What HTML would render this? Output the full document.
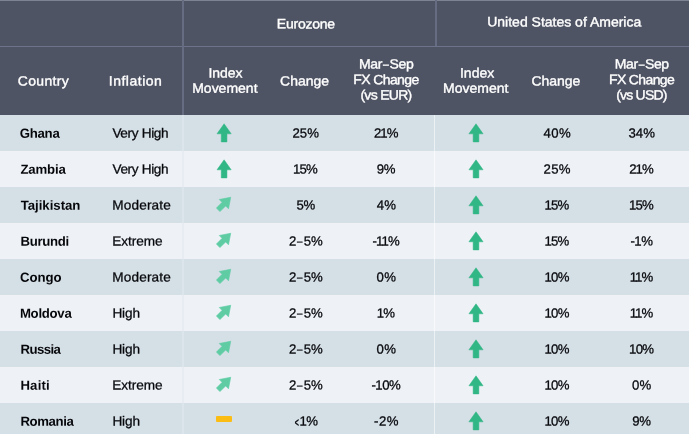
<!DOCTYPE html>
<html lang="en">
<head>
<meta charset="utf-8">
<title>Index Movement by Country</title>
<style>
html,body{margin:0;padding:0;}
body{width:689px;height:434px;overflow:hidden;position:relative;background:#d4dfe6;font-family:"Liberation Sans",Arial,sans-serif;}
.hd{position:absolute;left:0;top:0;width:689px;height:115px;background:#4f5464;}
.topline{position:absolute;left:0;top:0;width:689px;height:1px;background:#7d8391;}
.hline{position:absolute;left:0;top:46px;width:689px;height:1px;background:#6d748a;}
.v1{position:absolute;left:182px;top:0;width:2px;height:115px;background:#666d83;}
.v2{position:absolute;left:435px;top:0;width:2px;height:46px;background:#666d83;}
.bv1{position:absolute;left:182px;top:115px;width:2px;height:319px;background:rgba(226,232,240,.55);}
.bv2{position:absolute;left:434px;top:115px;width:1.3px;height:319px;background:rgba(255,255,255,.55);}
.row{position:absolute;left:0;width:689px;height:36px;}
.row.a{background:#d4dfe6;}
.row.b{background:#eef2f7;}
.t{position:absolute;white-space:nowrap;margin:0;padding:0;}
.h{color:#fff;font-size:13.4px;line-height:16px;-webkit-text-stroke:0.36px #fff;transform:scaleX(1.045);transform-origin:0 0;}
.b{color:#07080c;font-size:13.2px;line-height:16px;-webkit-text-stroke:0.28px #07080c;transform:scaleX(1.03);transform-origin:0 0;}
.bold{font-weight:bold;color:#050609;-webkit-text-stroke:0;transform:scaleX(1);}
.txt{position:absolute;left:0;top:0;width:689px;height:434px;will-change:transform;text-rendering:geometricPrecision;}
.lt{display:inline-block;position:relative;top:.5px;left:.6px;margin-right:.8px;font-size:11.5px;-webkit-text-stroke:.5px #07080c;transform:scale(.6,1.05);transform-origin:50% 60%;}
.nd{display:inline-block;transform:scaleX(.74);}
.ic{position:absolute;display:block;overflow:visible;}
.flat{position:absolute;width:16px;height:6px;border-radius:1px;background:#fbbc14;}
</style>
</head>
<body>
<div class="hd"></div>
<div class="row a" style="top:115px"></div>
<div class="row b" style="top:151px"></div>
<div class="row a" style="top:187px"></div>
<div class="row b" style="top:223px"></div>
<div class="row a" style="top:259px"></div>
<div class="row b" style="top:295px"></div>
<div class="row a" style="top:331px"></div>
<div class="row b" style="top:367px"></div>
<div class="row a" style="top:403px"></div>
<div class="topline"></div>
<div class="hline"></div>
<div class="v1"></div>
<div class="v2"></div>
<div class="bv1"></div>
<div class="bv2"></div>
<div class="txt">
<div class="t h" style="left:276px;top:16px;transform:translate(0.87px,0.36px) rotate(.05deg) scaleX(1.045);letter-spacing:-0.22px">Eurozone</div>
<div class="t h" style="left:487px;top:14px;transform:translate(0.24px,0.36px) rotate(.05deg) scaleX(1.045)">United States of America</div>
<div class="t h" style="left:17px;top:73px;transform:translate(0.77px,0.41px) rotate(.05deg) scaleX(1.045);letter-spacing:0.31px">Country</div>
<div class="t h" style="left:108px;top:73px;transform:translate(0.79px,0.41px) rotate(.05deg) scaleX(1.045);letter-spacing:0.48px">Inflation</div>
<div class="t h" style="left:208px;top:65px;transform:translate(0.41px,0.46px) rotate(.05deg) scaleX(1.045);letter-spacing:-0.04px">Index</div>
<div class="t h" style="left:192px;top:80px;transform:translate(0.20px,0.76px) rotate(.05deg) scaleX(1.045)">Movement</div>
<div class="t h" style="left:280px;top:73px;transform:translate(0.02px,0.41px) rotate(.05deg) scaleX(1.045);letter-spacing:0.01px">Change</div>
<div class="t h" style="left:358px;top:56px;transform:translate(0.99px,0.56px) rotate(.05deg) scaleX(1.045);letter-spacing:-0.33px">Mar<span class="nd">–</span>Sep</div>
<div class="t h" style="left:353px;top:72px;transform:translate(0.26px,0.11px) rotate(.05deg) scaleX(1.045);letter-spacing:-0.58px">FX Change</div>
<div class="t h" style="left:360px;top:87px;transform:translate(0.42px,0.56px) rotate(.05deg) scaleX(1.045);letter-spacing:-0.67px">(vs EUR)</div>
<div class="t h" style="left:459px;top:65px;transform:translate(0.94px,0.46px) rotate(.05deg) scaleX(1.045);letter-spacing:0.03px">Index</div>
<div class="t h" style="left:443px;top:80px;transform:translate(0.06px,0.76px) rotate(.05deg) scaleX(1.045)">Movement</div>
<div class="t h" style="left:531px;top:73px;transform:translate(0.60px,0.41px) rotate(.05deg) scaleX(1.045);letter-spacing:-0.08px">Change</div>
<div class="t h" style="left:614px;top:56px;transform:translate(0.86px,0.56px) rotate(.05deg) scaleX(1.045);letter-spacing:-0.40px">Mar<span class="nd">–</span>Sep</div>
<div class="t h" style="left:608px;top:72px;transform:translate(0.98px,0.11px) rotate(.05deg) scaleX(1.045);letter-spacing:-0.60px">FX Change</div>
<div class="t h" style="left:616px;top:87px;transform:translate(0.27px,0.56px) rotate(.05deg) scaleX(1.045);letter-spacing:-0.77px">(vs USD)</div>
<div class="t b bold" style="left:19px;top:125px;transform:translate(0.76px,0.73px) rotate(.05deg) scaleX(1);letter-spacing:-0.26px">Ghana</div>
<div class="t b" style="left:112px;top:125px;transform:translate(0.40px,0.48px) rotate(.05deg) scaleX(1.03);letter-spacing:-0.32px">Very High</div>
<div class="t b" style="left:292px;top:125px;transform:translate(0.45px,0.48px) rotate(.05deg) scaleX(1);letter-spacing:0.10px">25%</div>
<div class="t b" style="left:373px;top:125px;transform:translate(0.92px,0.48px) rotate(.05deg) scaleX(1);letter-spacing:-0.90px">21%</div>
<div class="t b" style="left:543px;top:125px;transform:translate(0.56px,0.48px) rotate(.05deg) scaleX(1);letter-spacing:0.39px">40%</div>
<div class="t b" style="left:628px;top:125px;transform:translate(0.44px,0.48px) rotate(.05deg) scaleX(1);letter-spacing:0.05px">34%</div>
<div class="t b bold" style="left:20px;top:161px;transform:translate(0.40px,0.73px) rotate(.05deg) scaleX(1);letter-spacing:-0.13px">Zambia</div>
<div class="t b" style="left:112px;top:161px;transform:translate(0.41px,0.48px) rotate(.05deg) scaleX(1.03);letter-spacing:-0.32px">Very High</div>
<div class="t b" style="left:293px;top:161px;transform:translate(0.04px,0.48px) rotate(.05deg) scaleX(1);letter-spacing:-0.81px">15%</div>
<div class="t b" style="left:376px;top:161px;transform:translate(0.78px,0.48px) rotate(.05deg) scaleX(1);letter-spacing:-0.27px">9%</div>
<div class="t b" style="left:543px;top:161px;transform:translate(0.62px,0.48px) rotate(.05deg) scaleX(1);letter-spacing:0.26px">25%</div>
<div class="t b" style="left:629px;top:161px;transform:translate(0.20px,0.48px) rotate(.05deg) scaleX(1);letter-spacing:-0.90px">21%</div>
<div class="t b bold" style="left:20px;top:197px;transform:translate(0.64px,0.73px) rotate(.05deg) scaleX(1);letter-spacing:-0.01px">Tajikistan</div>
<div class="t b" style="left:112px;top:197px;transform:translate(0.31px,0.48px) rotate(.05deg) scaleX(1.03);letter-spacing:0.15px">Moderate</div>
<div class="t b" style="left:296px;top:197px;transform:translate(0.54px,0.48px) rotate(.05deg) scaleX(1);letter-spacing:-0.34px">5%</div>
<div class="t b" style="left:376px;top:197px;transform:translate(0.87px,0.48px) rotate(.05deg) scaleX(1);letter-spacing:-0.05px">4%</div>
<div class="t b" style="left:544px;top:197px;transform:translate(0.62px,0.48px) rotate(.05deg) scaleX(1);letter-spacing:-0.90px">15%</div>
<div class="t b" style="left:629px;top:197px;transform:translate(0.03px,0.48px) rotate(.05deg) scaleX(1);letter-spacing:-0.90px">15%</div>
<div class="t b bold" style="left:20px;top:233px;transform:translate(0.44px,0.73px) rotate(.05deg) scaleX(1);letter-spacing:-0.31px">Burundi</div>
<div class="t b" style="left:112px;top:233px;transform:translate(0.21px,0.48px) rotate(.05deg) scaleX(1.03);letter-spacing:-0.04px">Extreme</div>
<div class="t b" style="left:289px;top:233px;transform:translate(0.04px,0.48px) rotate(.05deg) scaleX(1)">2<span class="nd">–</span>5%</div>
<div class="t b" style="left:372px;top:233px;transform:translate(0.58px,0.48px) rotate(.05deg) scaleX(1);letter-spacing:-0.90px">-11%</div>
<div class="t b" style="left:544px;top:233px;transform:translate(0.62px,0.48px) rotate(.05deg) scaleX(1);letter-spacing:-0.90px">15%</div>
<div class="t b" style="left:630px;top:233px;transform:translate(0.46px,0.48px) rotate(.05deg) scaleX(1);letter-spacing:-0.49px">-1%</div>
<div class="t b bold" style="left:20px;top:269px;transform:translate(0.06px,0.73px) rotate(.05deg) scaleX(1);letter-spacing:-0.05px">Congo</div>
<div class="t b" style="left:112px;top:269px;transform:translate(0.31px,0.48px) rotate(.05deg) scaleX(1.03);letter-spacing:0.15px">Moderate</div>
<div class="t b" style="left:289px;top:269px;transform:translate(0.04px,0.48px) rotate(.05deg) scaleX(1);letter-spacing:0.01px">2<span class="nd">–</span>5%</div>
<div class="t b" style="left:376px;top:269px;transform:translate(0.57px,0.48px) rotate(.05deg) scaleX(1);letter-spacing:0.29px">0%</div>
<div class="t b" style="left:544px;top:269px;transform:translate(0.42px,0.48px) rotate(.05deg) scaleX(1);letter-spacing:-0.62px">10%</div>
<div class="t b" style="left:629px;top:269px;transform:translate(0.67px,0.48px) rotate(.05deg) scaleX(1);letter-spacing:-0.90px">11%</div>
<div class="t b bold" style="left:19px;top:305px;transform:translate(0.93px,0.73px) rotate(.05deg) scaleX(1);letter-spacing:-0.28px">Moldova</div>
<div class="t b" style="left:112px;top:305px;transform:translate(0.40px,0.48px) rotate(.05deg) scaleX(1.03);letter-spacing:-0.12px">High</div>
<div class="t b" style="left:289px;top:305px;transform:translate(0.04px,0.48px) rotate(.05deg) scaleX(1)">2<span class="nd">–</span>5%</div>
<div class="t b" style="left:376px;top:305px;transform:translate(0.75px,0.48px) rotate(.05deg) scaleX(1);letter-spacing:-0.90px">1%</div>
<div class="t b" style="left:544px;top:305px;transform:translate(0.42px,0.48px) rotate(.05deg) scaleX(1);letter-spacing:-0.62px">10%</div>
<div class="t b" style="left:629px;top:305px;transform:translate(0.67px,0.48px) rotate(.05deg) scaleX(1);letter-spacing:-0.90px">11%</div>
<div class="t b bold" style="left:20px;top:341px;transform:translate(0.45px,0.73px) rotate(.05deg) scaleX(1);letter-spacing:-0.57px">Russia</div>
<div class="t b" style="left:112px;top:341px;transform:translate(0.40px,0.48px) rotate(.05deg) scaleX(1.03);letter-spacing:-0.12px">High</div>
<div class="t b" style="left:289px;top:341px;transform:translate(0.04px,0.48px) rotate(.05deg) scaleX(1);letter-spacing:0.01px">2<span class="nd">–</span>5%</div>
<div class="t b" style="left:376px;top:341px;transform:translate(0.57px,0.48px) rotate(.05deg) scaleX(1);letter-spacing:0.29px">0%</div>
<div class="t b" style="left:544px;top:341px;transform:translate(0.42px,0.48px) rotate(.05deg) scaleX(1);letter-spacing:-0.62px">10%</div>
<div class="t b" style="left:629px;top:341px;transform:translate(0.04px,0.48px) rotate(.05deg) scaleX(1);letter-spacing:-0.73px">10%</div>
<div class="t b bold" style="left:20px;top:377px;transform:translate(0.39px,0.73px) rotate(.05deg) scaleX(1);letter-spacing:0.20px">Haiti</div>
<div class="t b" style="left:112px;top:377px;transform:translate(0.21px,0.48px) rotate(.05deg) scaleX(1.03);letter-spacing:-0.04px">Extreme</div>
<div class="t b" style="left:289px;top:377px;transform:translate(0.04px,0.48px) rotate(.05deg) scaleX(1)">2<span class="nd">–</span>5%</div>
<div class="t b" style="left:371px;top:377px;transform:translate(0.41px,0.48px) rotate(.05deg) scaleX(1);letter-spacing:-0.48px">-10%</div>
<div class="t b" style="left:544px;top:377px;transform:translate(0.42px,0.48px) rotate(.05deg) scaleX(1);letter-spacing:-0.62px">10%</div>
<div class="t b" style="left:632px;top:377px;transform:translate(0.09px,0.48px) rotate(.05deg) scaleX(1);letter-spacing:0.14px">0%</div>
<div class="t b bold" style="left:20px;top:413px;transform:translate(0.45px,0.73px) rotate(.05deg) scaleX(1);letter-spacing:-0.38px">Romania</div>
<div class="t b" style="left:112px;top:413px;transform:translate(0.40px,0.48px) rotate(.05deg) scaleX(1.03);letter-spacing:-0.12px">High</div>
<div class="t b" style="left:292px;top:413px;transform:translate(0.51px,0.48px) rotate(.05deg) scaleX(1);letter-spacing:-0.55px"><span class="lt">&lt;</span>1%</div>
<div class="t b" style="left:374px;top:413px;transform:translate(0.00px,0.48px) rotate(.05deg) scaleX(1);letter-spacing:0.57px">-2%</div>
<div class="t b" style="left:544px;top:413px;transform:translate(0.42px,0.48px) rotate(.05deg) scaleX(1);letter-spacing:-0.62px">10%</div>
<div class="t b" style="left:632px;top:413px;transform:translate(0.30px,0.48px) rotate(.05deg) scaleX(1);letter-spacing:-0.25px">9%</div>
</div>
<svg class="ic" style="left:214px;top:121px" width="20" height="24" viewBox="0 0 20 24"><path transform="translate(2.10 2.80)" d="M8 0 L15.1 10 L10.85 10 L10.85 18.1 L5.15 18.1 L5.15 10 L0.9 10 Z" fill="#31b685" stroke="#31b685" stroke-width="0.5" stroke-linejoin="round"/></svg>
<svg class="ic" style="left:466px;top:121px" width="20" height="24" viewBox="0 0 20 24"><path transform="translate(2.00 2.80)" d="M8 0 L15.1 10 L10.85 10 L10.85 18.1 L5.15 18.1 L5.15 10 L0.9 10 Z" fill="#31b685" stroke="#31b685" stroke-width="0.5" stroke-linejoin="round"/></svg>
<svg class="ic" style="left:214px;top:157px" width="20" height="24" viewBox="0 0 20 24"><path transform="translate(2.10 2.80)" d="M8 0 L15.1 10 L10.85 10 L10.85 18.1 L5.15 18.1 L5.15 10 L0.9 10 Z" fill="#31b685" stroke="#31b685" stroke-width="0.5" stroke-linejoin="round"/></svg>
<svg class="ic" style="left:466px;top:157px" width="20" height="24" viewBox="0 0 20 24"><path transform="translate(2.00 2.80)" d="M8 0 L15.1 10 L10.85 10 L10.85 18.1 L5.15 18.1 L5.15 10 L0.9 10 Z" fill="#31b685" stroke="#31b685" stroke-width="0.5" stroke-linejoin="round"/></svg>
<svg class="ic" style="left:214px;top:192px" width="20" height="24" viewBox="0 0 20 24"><path transform="translate(2.45 2.40) rotate(45 8 9.15) translate(8 9.15) scale(.97) translate(-8 -9.15)" d="M8 0 L14.75 10 L10.6 10 L10.6 18.3 L5.4 18.3 L5.4 10 L1.25 10 Z" fill="#5fcca4" stroke="#5fcca4" stroke-width="0.6" stroke-linejoin="round"/></svg>
<svg class="ic" style="left:466px;top:193px" width="20" height="24" viewBox="0 0 20 24"><path transform="translate(2.00 2.80)" d="M8 0 L15.1 10 L10.85 10 L10.85 18.1 L5.15 18.1 L5.15 10 L0.9 10 Z" fill="#31b685" stroke="#31b685" stroke-width="0.5" stroke-linejoin="round"/></svg>
<svg class="ic" style="left:214px;top:228px" width="20" height="24" viewBox="0 0 20 24"><path transform="translate(2.45 2.40) rotate(45 8 9.15) translate(8 9.15) scale(.97) translate(-8 -9.15)" d="M8 0 L14.75 10 L10.6 10 L10.6 18.3 L5.4 18.3 L5.4 10 L1.25 10 Z" fill="#5fcca4" stroke="#5fcca4" stroke-width="0.6" stroke-linejoin="round"/></svg>
<svg class="ic" style="left:466px;top:229px" width="20" height="24" viewBox="0 0 20 24"><path transform="translate(2.00 2.80)" d="M8 0 L15.1 10 L10.85 10 L10.85 18.1 L5.15 18.1 L5.15 10 L0.9 10 Z" fill="#31b685" stroke="#31b685" stroke-width="0.5" stroke-linejoin="round"/></svg>
<svg class="ic" style="left:214px;top:264px" width="20" height="24" viewBox="0 0 20 24"><path transform="translate(2.45 2.40) rotate(45 8 9.15) translate(8 9.15) scale(.97) translate(-8 -9.15)" d="M8 0 L14.75 10 L10.6 10 L10.6 18.3 L5.4 18.3 L5.4 10 L1.25 10 Z" fill="#5fcca4" stroke="#5fcca4" stroke-width="0.6" stroke-linejoin="round"/></svg>
<svg class="ic" style="left:466px;top:265px" width="20" height="24" viewBox="0 0 20 24"><path transform="translate(2.00 2.80)" d="M8 0 L15.1 10 L10.85 10 L10.85 18.1 L5.15 18.1 L5.15 10 L0.9 10 Z" fill="#31b685" stroke="#31b685" stroke-width="0.5" stroke-linejoin="round"/></svg>
<svg class="ic" style="left:214px;top:300px" width="20" height="24" viewBox="0 0 20 24"><path transform="translate(2.45 2.40) rotate(45 8 9.15) translate(8 9.15) scale(.97) translate(-8 -9.15)" d="M8 0 L14.75 10 L10.6 10 L10.6 18.3 L5.4 18.3 L5.4 10 L1.25 10 Z" fill="#5fcca4" stroke="#5fcca4" stroke-width="0.6" stroke-linejoin="round"/></svg>
<svg class="ic" style="left:466px;top:301px" width="20" height="24" viewBox="0 0 20 24"><path transform="translate(2.00 2.80)" d="M8 0 L15.1 10 L10.85 10 L10.85 18.1 L5.15 18.1 L5.15 10 L0.9 10 Z" fill="#31b685" stroke="#31b685" stroke-width="0.5" stroke-linejoin="round"/></svg>
<svg class="ic" style="left:214px;top:336px" width="20" height="24" viewBox="0 0 20 24"><path transform="translate(2.45 2.40) rotate(45 8 9.15) translate(8 9.15) scale(.97) translate(-8 -9.15)" d="M8 0 L14.75 10 L10.6 10 L10.6 18.3 L5.4 18.3 L5.4 10 L1.25 10 Z" fill="#5fcca4" stroke="#5fcca4" stroke-width="0.6" stroke-linejoin="round"/></svg>
<svg class="ic" style="left:466px;top:337px" width="20" height="24" viewBox="0 0 20 24"><path transform="translate(2.00 2.80)" d="M8 0 L15.1 10 L10.85 10 L10.85 18.1 L5.15 18.1 L5.15 10 L0.9 10 Z" fill="#31b685" stroke="#31b685" stroke-width="0.5" stroke-linejoin="round"/></svg>
<svg class="ic" style="left:214px;top:372px" width="20" height="24" viewBox="0 0 20 24"><path transform="translate(2.45 2.40) rotate(45 8 9.15) translate(8 9.15) scale(.97) translate(-8 -9.15)" d="M8 0 L14.75 10 L10.6 10 L10.6 18.3 L5.4 18.3 L5.4 10 L1.25 10 Z" fill="#5fcca4" stroke="#5fcca4" stroke-width="0.6" stroke-linejoin="round"/></svg>
<svg class="ic" style="left:466px;top:373px" width="20" height="24" viewBox="0 0 20 24"><path transform="translate(2.00 2.80)" d="M8 0 L15.1 10 L10.85 10 L10.85 18.1 L5.15 18.1 L5.15 10 L0.9 10 Z" fill="#31b685" stroke="#31b685" stroke-width="0.5" stroke-linejoin="round"/></svg>
<div class="flat" style="left:216px;top:416px"></div>
<svg class="ic" style="left:466px;top:409px" width="20" height="24" viewBox="0 0 20 24"><path transform="translate(2.00 2.80)" d="M8 0 L15.1 10 L10.85 10 L10.85 18.1 L5.15 18.1 L5.15 10 L0.9 10 Z" fill="#31b685" stroke="#31b685" stroke-width="0.5" stroke-linejoin="round"/></svg>
</body>
</html>
